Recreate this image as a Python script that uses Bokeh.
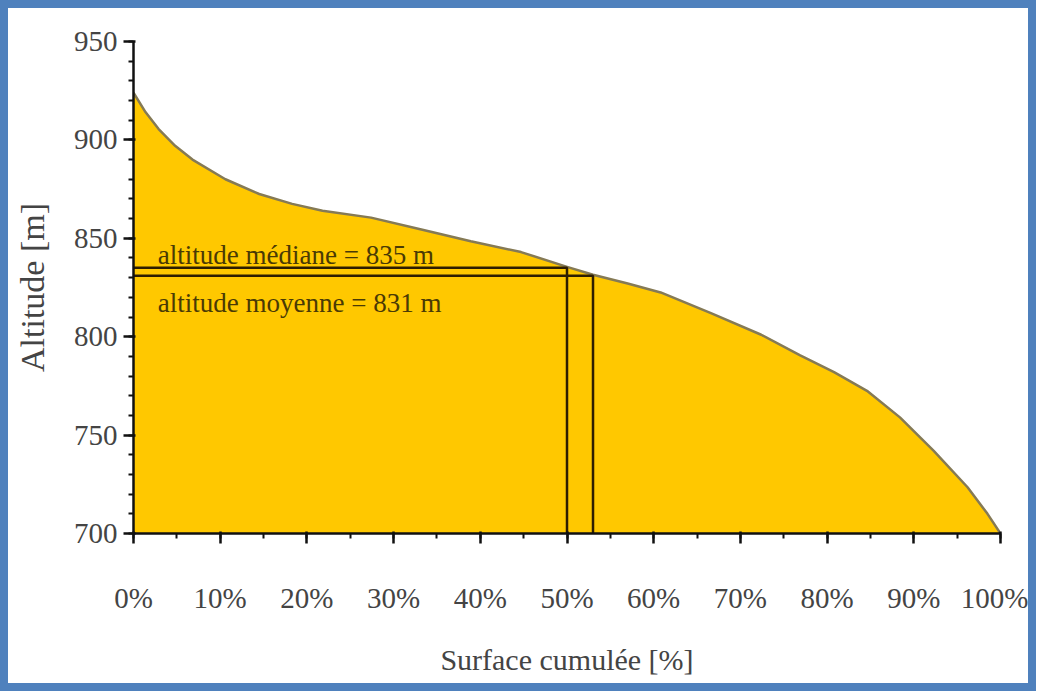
from bokeh.plotting import figure
from bokeh.models import Range1d, SingleIntervalTicker
from bokeh.core.properties import value
from bokeh.embed import file_html
from bokeh.resources import INLINE

# ---- data ----
surface_pct = [0, 1.4, 2.9, 4.8, 6.8, 10.6, 14.5, 18.3, 21.8, 27.4, 33.2, 38.9, 44.7,
               50, 53, 57, 60.8, 66.6, 72.4, 76.9, 80.8, 84.6, 88.4, 92.3, 96.2, 98.5, 100]
altitude_m = [924, 914, 905.5, 897, 890, 880, 872.5, 867.5, 864, 860.5, 854.5, 848.5, 843,
              835.5, 831.5, 827, 822.5, 812, 801, 790.5, 782, 772.5, 759, 742, 723.5, 710, 700]

median_alt = 835
median_pct = 50
mean_alt = 831
mean_pct = 53
base_alt = 700

x_ticks = [0, 10, 20, 30, 40, 50, 60, 70, 80, 90, 100]
x_tick_labels = ["0%", "10%", "20%", "30%", "40%", "50%", "60%", "70%", "80%", "90%", "100%"]

median_label = "altitude médiane = 835 m"
mean_label = "altitude moyenne = 831 m"
x_title = "Surface cumulée [%]"
y_title = "Altitude [m]"

SERIF = "Liberation Serif"

p = figure(width=1036, height=691,
           x_range=Range1d(0, 100), y_range=Range1d(700, 950),
           output_backend="svg", toolbar_location=None,
           min_border_left=125, min_border_right=44,
           min_border_top=33, min_border_bottom=166)
p.styles = {"border": "8px solid #4F81BD"}
p.background_fill_color = "white"
p.border_fill_color = "white"
p.outline_line_color = None
p.xgrid.visible = False
p.ygrid.visible = False

# filled hypsometric curve
p.varea(x=surface_pct, y1=[base_alt] * len(surface_pct), y2=altitude_m,
        fill_color="#FFC800", fill_alpha=1.0)
p.line(x=surface_pct, y=altitude_m, line_color="#857a55", line_width=2.5,
       line_join="round")

# median and mean lines
p.line(x=[0, median_pct, median_pct], y=[median_alt, median_alt, base_alt],
       line_color="#2e1e00", line_width=2.5)
p.line(x=[0, mean_pct, mean_pct], y=[mean_alt, mean_alt, base_alt],
       line_color="#2e1e00", line_width=2.5)

p.text(x=[2.8], y=[841.3], text=[median_label], text_font=value(SERIF),
       text_font_size="27px", text_color="#4a3a05", text_baseline="alphabetic")
p.text(x=[2.8], y=[817], text=[mean_label], text_font=value(SERIF),
       text_font_size="27px", text_color="#4a3a05", text_baseline="alphabetic")

# axes
xa = p.xaxis[0]
xa.ticker = SingleIntervalTicker(interval=10, num_minor_ticks=2)
xa.major_label_overrides = {t: l for t, l in zip(x_ticks, x_tick_labels)}
ya = p.yaxis[0]
ya.ticker = SingleIntervalTicker(interval=50, num_minor_ticks=5)

for ax in (xa, ya):
    ax.axis_line_color = "#111111"
    ax.axis_line_width = 2.5
    ax.major_tick_line_color = "#111111"
    ax.major_tick_line_width = 2.5
    ax.minor_tick_line_color = "#111111"
    ax.minor_tick_line_width = 2
    ax.major_tick_out = 10
    ax.major_tick_in = 2
    ax.minor_tick_out = 5
    ax.minor_tick_in = 0
    ax.major_label_text_font = SERIF
    ax.major_label_text_font_size = "29px"
    ax.major_label_text_color = "#444444"
    ax.axis_label_text_font = SERIF
    ax.axis_label_text_font_style = "normal"
    ax.axis_label_text_color = "#444444"

xa.major_label_standoff = 38
xa.axis_label = x_title
xa.axis_label_text_font_size = "30px"
xa.axis_label_standoff = 26

ya.major_label_standoff = 6
ya.axis_label = y_title
ya.axis_label_text_font_size = "34px"
ya.axis_label_standoff = 20

open("out.html", "w").write(file_html(p, INLINE))
